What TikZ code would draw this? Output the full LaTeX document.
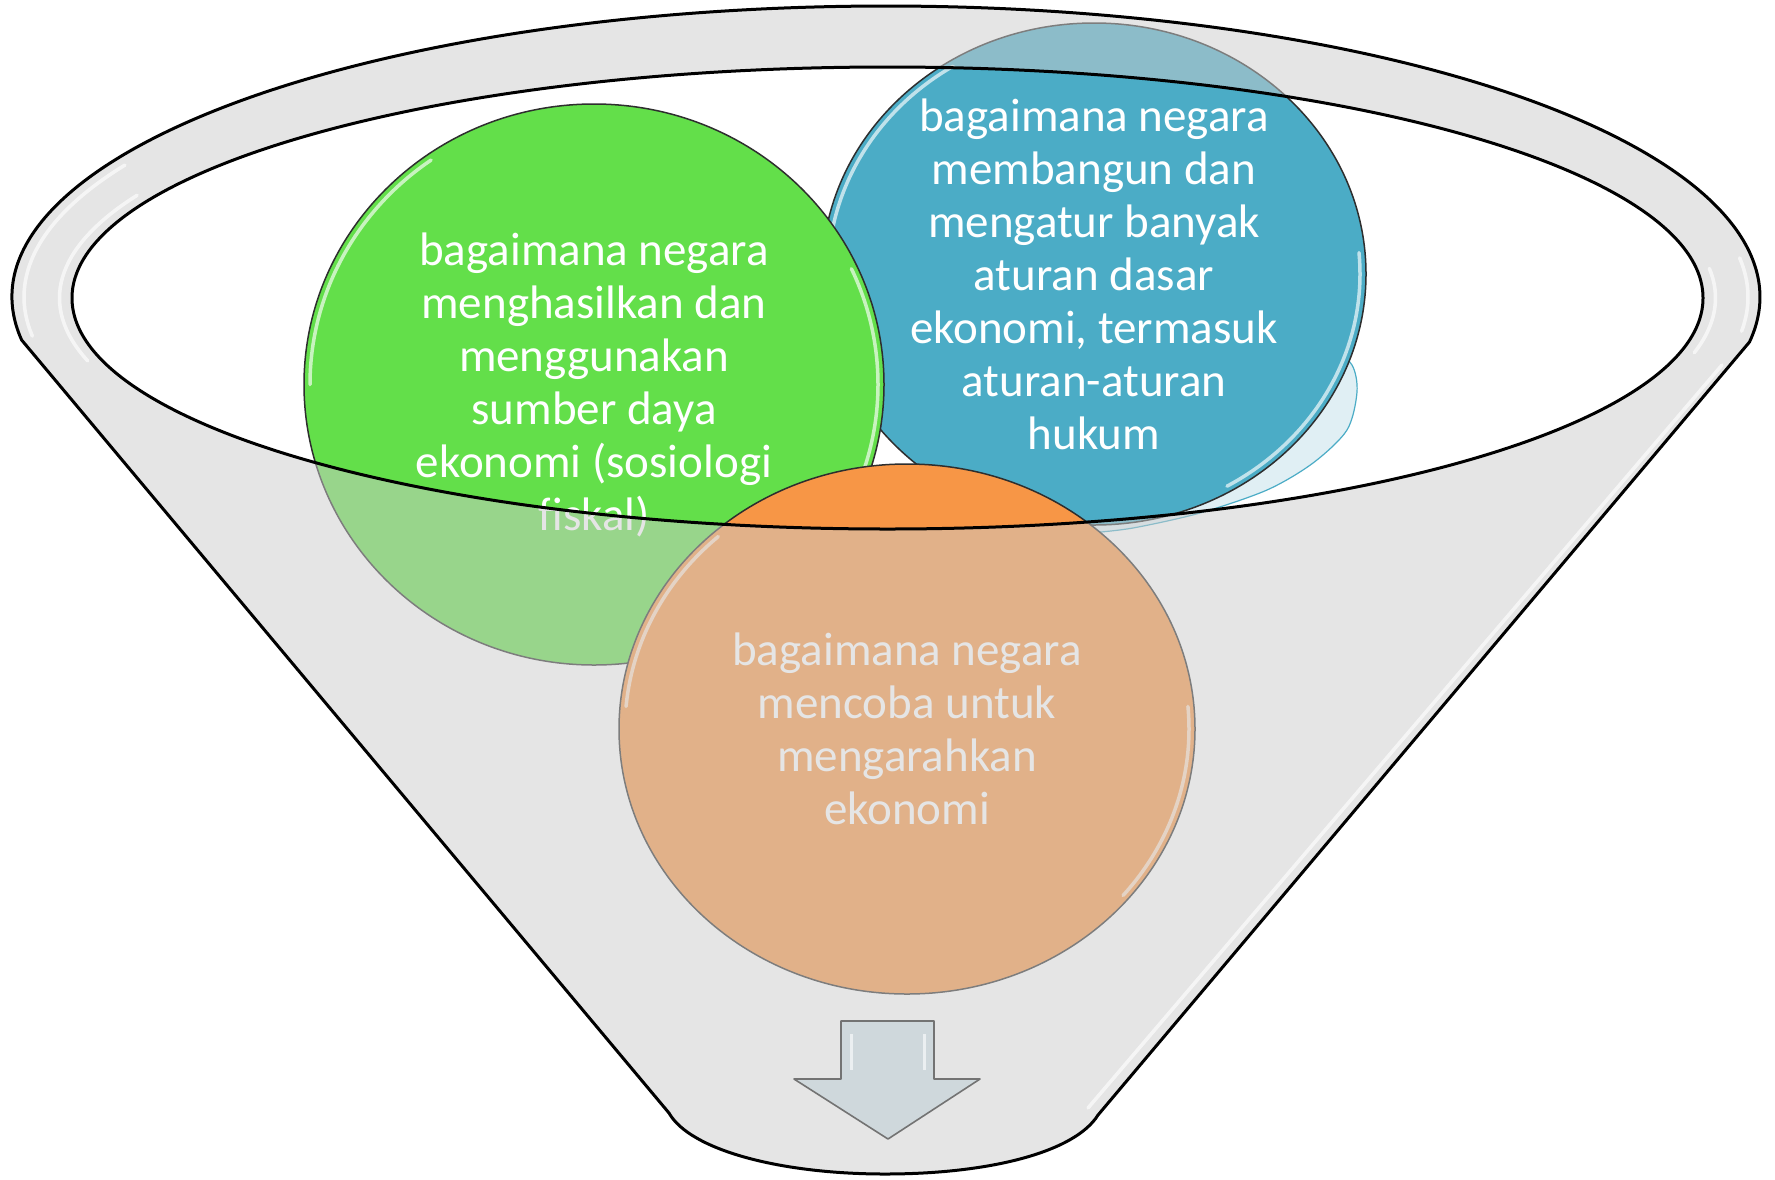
\documentclass[tikz,border=0pt]{standalone}
\usepackage{fontspec}
\setmainfont{Carlito}
\usetikzlibrary{shapes.geometric}
\definecolor{cgreen}{HTML}{63DF4A}
\definecolor{cblue}{HTML}{4BACC6}
\definecolor{corange}{HTML}{F79646}
\definecolor{veil}{HTML}{CDCDCD}
\definecolor{arrowfill}{HTML}{CFD8DC}
\definecolor{reflfill}{HTML}{E0EFF4}
\newcommand\funnelcontour{([shift={(886,297)}]171.5:874 and 291) arc[start angle=171.5, end angle=368.9, x radius=874, y radius=291] -- (1098,1115) .. controls (1075,1152) and (990,1174) .. (885,1174) .. controls (780,1174) and (690,1150) .. (669,1113) -- cycle}
\begin{document}
\begin{tikzpicture}[x=1pt,y=-1pt,
  bubble/.style={ellipse, draw=black!82, line width=1.5pt, inner sep=0pt},
  txt/.style={align=center, text=white, inner sep=0pt, font=\fontsize{47}{53}\selectfont},
  gloss/.style={white, line width=3.5pt, opacity=0.65, line cap=round},
  rim/.style={black, line width=3pt, line join=round},
  arrowbox/.style={fill=arrowfill, draw=black!55, line width=1.6pt, line join=round}]
\fill[white] (0,0) rectangle (1775,1179);
\useasboundingbox (0,0) rectangle (1775,1179);

% reflection of the blue circle
\fill[reflfill] plot[smooth] coordinates {(1330,345) (1352,365) (1357,392) (1347,430) (1313,463) (1267,490) (1200,513) (1133,528) (1090,533)} -- (1100,480) -- cycle;
\draw[cblue, line width=1.2pt] plot[smooth] coordinates {(1330,345) (1352,365) (1357,392) (1347,430) (1313,463) (1267,490) (1200,513) (1133,528) (1090,533)};

% circles
\node[bubble, fill=cblue, minimum width=544pt, minimum height=502pt] (blue) at (1094,274) {};
\draw[gloss] ([shift={(1094,274)}]180:266 and 245) arc[start angle=180, end angle=238, x radius=266, y radius=245];
\draw[gloss] ([shift={(1094,274)}]-5:266 and 245) arc[start angle=-5, end angle=60, x radius=266, y radius=245];
\node[txt] (bluetext) at (blue.center) {bagaimana negara\\membangun dan\\mengatur banyak\\aturan dasar\\ekonomi, termasuk\\aturan-aturan\\hukum};

\node[bubble, fill=cgreen, minimum width=580pt, minimum height=561pt] (green) at (594,384.5) {};
\draw[gloss] ([shift={(594,384.5)}]180:284 and 274) arc[start angle=180, end angle=235, x radius=284, y radius=274];
\draw[gloss] ([shift={(594,384.5)}]-25:284 and 274) arc[start angle=-25, end angle=20, x radius=284, y radius=274];
\node[txt] (greentext) at (green.center) {bagaimana negara\\menghasilkan dan\\menggunakan\\sumber daya\\ekonomi (sosiologi\\fiskal)};

\node[bubble, fill=corange, minimum width=576pt, minimum height=530pt] (orange) at (907,729) {};
\draw[gloss] ([shift={(907,729)}]185:282 and 259) arc[start angle=185, end angle=228, x radius=282, y radius=259];
\draw[gloss] ([shift={(907,729)}]-5:282 and 259) arc[start angle=-5, end angle=40, x radius=282, y radius=259];
\node[txt] (orangetext) at (orange.center) {bagaimana negara\\mencoba untuk\\mengarahkan\\ekonomi};

% funnel body (veil with the mouth cut out)
\fill[veil, opacity=0.5, even odd rule] \funnelcontour (887.5,298) ellipse [x radius=815.5, y radius=231];
\draw[rim] \funnelcontour;
\draw[rim] (887.5,298) ellipse [x radius=815.5, y radius=231];

% glossy highlights of the funnel
\draw[gloss] ([shift={(886,297)}]172:862 and 281) arc[start angle=172, end angle=208, x radius=862, y radius=281];
\draw[gloss] ([shift={(886,297)}]352:862 and 281) arc[start angle=352, end angle=367, x radius=862, y radius=281];
\draw[gloss] ([shift={(887.5,298)}]165:828 and 243) arc[start angle=165, end angle=205, x radius=828, y radius=243];
\draw[gloss] ([shift={(887.5,298)}]353:828 and 243) arc[start angle=353, end angle=373, x radius=828, y radius=243];
\draw[gloss] (1722,365) -- (1088,1108);

% arrow
\draw[arrowbox] (841,1021) -- (934,1021) -- (934,1079) -- (980,1079) -- (888,1139) -- (794,1079) -- (841,1079) -- cycle;
\draw[white, line width=3pt, opacity=0.6] (851,1034) -- (851,1070) (924,1034) -- (924,1070);
\end{tikzpicture}
\end{document}
